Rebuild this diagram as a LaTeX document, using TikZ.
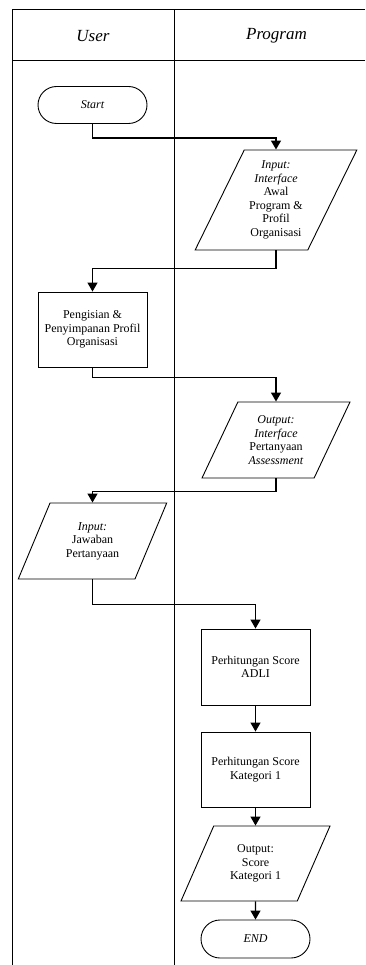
\documentclass[tikz,border=0pt]{standalone}
\usepackage{fontspec}
\setmainfont{Liberation Serif}
\usepackage{tikz}
\usetikzlibrary{shapes.geometric, shapes.misc, arrows.meta}

\begin{document}
\begin{tikzpicture}[x=1pt, y=-1pt]
        \tikzstyle{every node} = [font=\fontsize{12}{13.5}\selectfont, inner sep=0pt]
        \tikzstyle{judul}  = [font=\fontsize{17}{20}\selectfont\itshape]
        \tikzstyle{ujung}  = [draw, line width=0.9pt, rounded rectangle, minimum width=109pt, minimum height=37pt,
                font=\fontsize{12}{13.5}\selectfont\itshape]
        \tikzstyle{proses} = [draw, line width=0.9pt, rectangle, minimum width=109pt, minimum height=75pt, align=center]
        \tikzstyle{io}     = [draw, line width=0.9pt, trapezium, trapezium left angle=62, trapezium right angle=118,
                trapezium stretches=true, minimum width=149pt, minimum height=76pt, align=center]
        \tikzstyle{alur}   = [line width=1.3pt, -{Triangle[length=9pt, width=10pt]}]
        \tikzstyle{lajur}  = [line width=1pt]

        \def\kolu{92.5}
        \def\kolp{276}
        \def\kolq{255.5}

        \useasboundingbox (0,0) rectangle (365,965);

        % swimlane
        \draw[lajur] (12,965) -- (12,10) -- (365,10);
        \draw[lajur] (12,61) -- (365,61);
        \draw[lajur] (174,10) -- (174,965);
        \node[judul] (user) at (93,36) {User};
        \node[judul] (program) at (276.5,36) {Program};

        % langkah
        \node[ujung] (start) at (\kolu,105) {Start};
        \node[io, minimum width=162pt, minimum height=100pt] (awal) at (\kolp,200)
            {\textit{Input:}\\\textit{Interface}\\Awal\\Program \&\\Profil\\Organisasi};
        \node[proses] (simpan) at (\kolu,329.5) {Pengisian \&\\Penyimpanan Profil\\Organisasi};
        \node[io, minimum width=148pt] (tanya) at (\kolp,440)
            {\textit{Output:}\\\textit{Interface}\\Pertanyaan\\\textit{Assessment}};
        \node[io] (jawab) at (\kolu,541) {\textit{Input:}\\Jawaban\\Pertanyaan};
        \node[proses, minimum height=76pt] (adli) at (\kolq,667) {Perhitungan Score\\ADLI};
        \node[proses] (kategori) at (\kolq,769.5) {Perhitungan Score\\Kategori 1};
        \node[io, minimum height=75pt] (skor) at (\kolq,863.5) {Output:\\Score\\Kategori 1};
        \node[ujung, minimum height=38pt] (end) at (\kolq,939) {END};

        % alur
        \draw[alur] (start.south) -- ++(0,14) -| (awal.north);
        \draw[alur] (awal.south) -- ++(0,18) -| (simpan.north);
        \draw[alur] (simpan.south) -- ++(0,10) -| (tanya.north);
        \draw[alur] (tanya.south) -- ++(0,13) -| (jawab.north);
        \draw[alur] (jawab.south) -- ++(0,25) -| (adli.north);
        \draw[alur] (adli) -- (kategori);
        \draw[alur] (kategori) -- (skor);
        \draw[alur] (skor) -- (end);
    \end{tikzpicture}
\end{document}
